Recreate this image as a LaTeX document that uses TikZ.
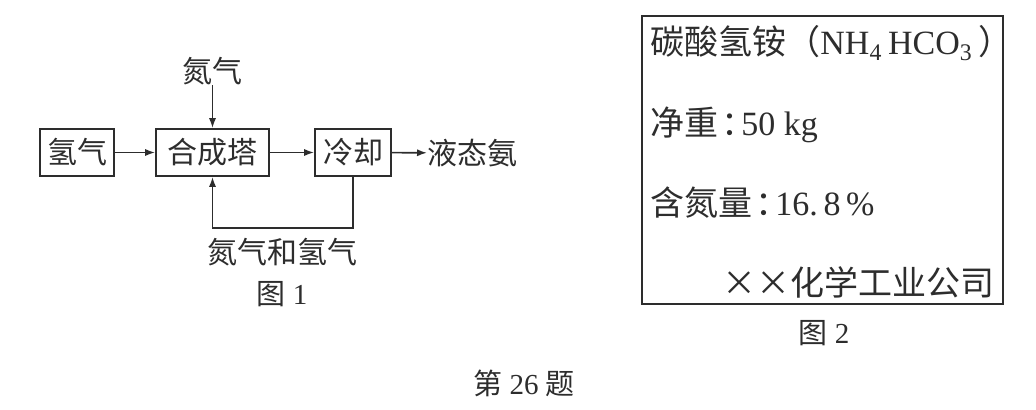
\documentclass[tikz,border=0pt]{standalone}
\usepackage{fontspec}
\setmainfont{Liberation Serif}
\newfontfamily\cjk{Noto Sans CJK SC}
\usetikzlibrary{arrows.meta,positioning}
\definecolor{InkGray}{RGB}{45,45,45}
\newcommand{\tagcolon}{\hbox to 11.5pt{\kern1.5pt\cjk：\hss}}
\tikzset{
  flowbox/.style={draw=InkGray,line width=0.9pt,minimum height=23.5pt,inner sep=0pt,
    font=\fontsize{15}{18}\selectfont\cjk,text=InkGray},
  flowtext/.style={inner sep=0pt,font=\fontsize{15}{18}\selectfont\cjk,text=InkGray},
  labeltext/.style={inner sep=0pt,font=\fontsize{17}{20}\selectfont,text=InkGray},
  captext/.style={inner sep=0pt,font=\fontsize{14.5}{17}\selectfont,text=InkGray},
  flow/.style={-{Latex[length=5pt,width=3.6pt]},line width=0.8pt,draw=InkGray}
}
\begin{document}
\begin{tikzpicture}[x=0.5pt,y=-0.5pt]
  \useasboundingbox (0,0) rectangle (1036,410);
  % figure 1
  \node[flowbox,minimum width=37pt] (hyd) at (77,152.5) {氢气};
  \node[flowbox,minimum width=56.5pt] (syn) at (212.5,152.5) {合成塔};
  \node[flowbox,minimum width=38pt] (cool) at (353,152.5) {冷却};
  \node[flowtext,anchor=west] (liq) at (427,153) {液态氨};
  \node[flowtext] (nit) at (212.5,71) {氮气};
  \coordinate (ret) at (282,228);
  \node[flowtext] (mix) at (282,252) {氮气和氢气};
  \node[captext] (cap1) at (282,294) {{\cjk 图} 1};
  \draw[flow] (hyd) -- (syn);
  \draw[flow] (syn) -- (cool);
  \draw[flow] (cool) -- (liq);
  \draw[flow] (nit) -- (syn);
  \draw[flow] (cool.south) |- (ret) -| (syn.south);
  % figure 2
  \node[draw=InkGray,line width=0.8pt,minimum width=180.5pt,minimum height=144pt,inner sep=0pt] (tag) at (822.5,160) {};
  \node[labeltext,anchor=west] (name) at (650,43)
    {{\cjk 碳酸氢铵（}NH\textsubscript{4}\,HCO\textsubscript{3}\,{\cjk ）}};
  \node[labeltext,anchor=west] (mass) at (650,125) {{\cjk 净重}\tagcolon 50 kg};
  \node[labeltext,anchor=west] (nfrac) at (650,203) {{\cjk 含氮量}\tagcolon 16.\,8\,\%};
  \node[labeltext,anchor=east] (firm) at (995,282) {{\cjk ××化学工业公司}};
  \node[captext] (cap2) at (824,333) {{\cjk 图} 2};
  % caption
  \node[captext] (title) at (524,383) {{\cjk 第} 26 {\cjk 题}};
\end{tikzpicture}
\end{document}
